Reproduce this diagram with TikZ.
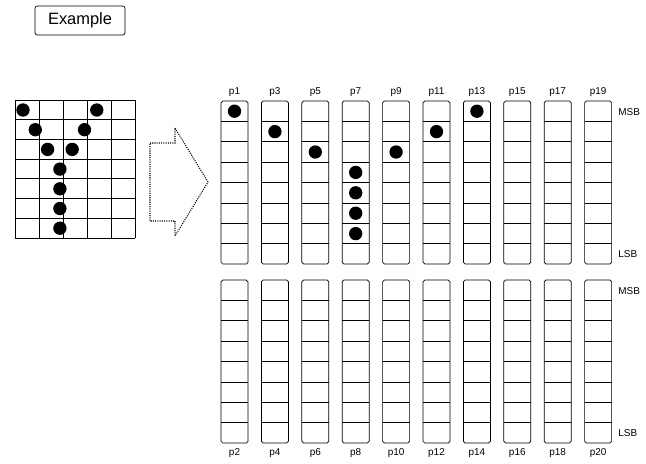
\documentclass[tikz,border=0pt]{standalone}
\usepackage{fontspec}
\setmainfont{Liberation Sans}
\usetikzlibrary{positioning}
\tikzset{
  gridln/.style={draw=black,line width=0.6pt},
  colbox/.style={draw=black,line width=0.6pt,rounded corners=1.5pt},
  bit/.style={circle,fill=black,inner sep=0pt,minimum size=4mm},
  plbl/.style={font=\fontsize{8.5}{9}\selectfont,inner sep=1pt},
  sblbl/.style={font=\fontsize{8.5}{9}\selectfont,anchor=west,inner sep=1pt},
  bigarrow/.style={densely dotted,line width=0.9pt},
  titlebox/.style={draw,line width=0.6pt,rounded corners=2pt,minimum width=2.7cm,
    minimum height=0.87cm,font=\fontsize{14}{16}\selectfont},
}
\begin{document}
\begin{tikzpicture}[x=0.03cm,y=-0.03cm]
  \useasboundingbox (0,0) rectangle (646,463);
  \node[titlebox] (title) at (80,20.5) {Example};
  % left pixel grid
  \foreach \k in {0,...,5}
    \draw[gridln] (15+24*\k,100) -- (15+24*\k,238);
  \foreach \k in {0,...,7}
    \draw[gridln] (15,100+19.7*\k) -- (135,100+19.7*\k);
  % arrow
  \draw[bigarrow] (150,143) -- (175,143) -- (175,128) -- (208,182)
    -- (175,236) -- (175,221) -- (150,221) -- cycle;
  % byte columns
  \foreach \i [evaluate=\i as \xl using 221+40.4*\i,
               evaluate=\i as \nodd using int(2*\i+1),
               evaluate=\i as \neven using int(2*\i+2)] in {0,...,9} {
    \draw[colbox] (\xl,101) rectangle ++(27,163);
    \foreach \c in {1,...,7}
      \draw[gridln] (\xl,101+20.4*\c) -- ++(27,0);
    \node[plbl] (p\nodd) at (\xl+13.5,92) {p\nodd};
    \draw[colbox] (\xl,280) rectangle ++(27,163);
    \foreach \c in {1,...,7}
      \draw[gridln] (\xl,280+20.4*\c) -- ++(27,0);
    \node[plbl] (p\neven) at (\xl+13.5,453) {p\neven};
  }
  % lit pixels
  \foreach \c/\r in {0/0,6/0,1/1,5/1,2/2,4/2,3/3,3/4,3/5,3/6} {
    \node[bit] (l-\c-\r) at (23+12.3*\c,110+19.7*\r) {};
    \node[bit] (b-\c-\r) at (234.5+40.4*\c,111.2+20.4*\r) {};
  }
  \node[sblbl] (msbtop) at (617,112) {MSB};
  \node[sblbl] (lsbtop) at (617,254) {LSB};
  \node[sblbl] (msbbot) at (617,291) {MSB};
  \node[sblbl] (lsbbot) at (617,433) {LSB};
\end{tikzpicture}
\end{document}
